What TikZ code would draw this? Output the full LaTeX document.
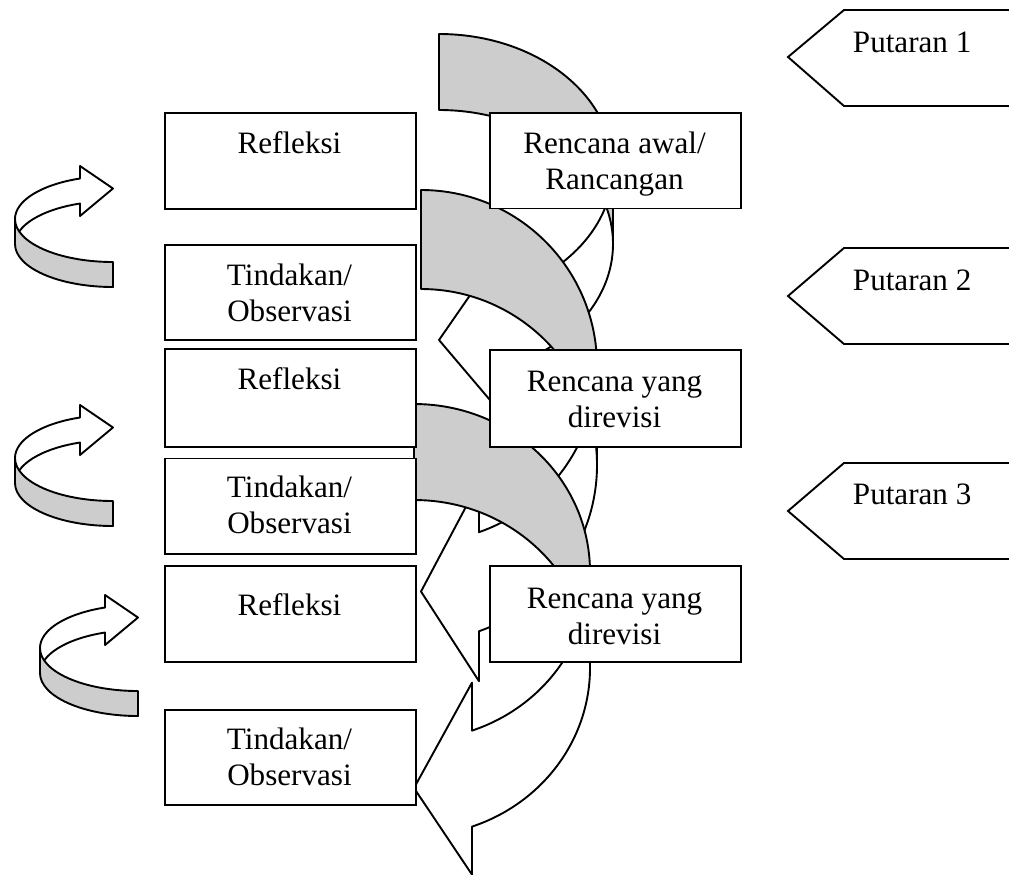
\documentclass[tikz,border=0pt]{standalone}
\usepackage{fontspec}
\setmainfont{Liberation Serif}
\definecolor{bandgray}{RGB}{205,205,205}

\begin{document}
\begin{tikzpicture}[x=0.1389mm, y=-0.1389mm, line width=0.75pt,
    box/.style={draw, fill=white, anchor=north west, inner sep=0pt,
      minimum width=251*0.1389mm, minimum height=96*0.1389mm},
    txt/.style={anchor=north, inner sep=0pt, align=center,
      font=\fontsize{12.3pt}{14.2pt}\selectfont},
    lbl/.style={anchor=base west, inner sep=0pt,
      font=\fontsize{12.3pt}{14.2pt}\selectfont},
    front/.style={draw, fill=white, line join=round},
    back/.style={draw, fill=bandgray, line join=round}]
    \useasboundingbox (0,0) rectangle (1009,874);
    \clip (0,0) rectangle (1009,874);

    % big curved arrows, round 1 to 3
    \draw[front] (613,168) arc[start angle=0, end angle=70.53, x radius=174, y radius=134]
      -- (497,256.3) -- (439,340) -- (497,408.3) -- (497,370.3)
      arc[start angle=70.53, end angle=0, x radius=174, y radius=134] -- cycle;
    \draw[back] (439,34) arc[start angle=-90, end angle=0, x radius=174, y radius=134]
      -- (613,244) arc[start angle=0, end angle=-90, x radius=174, y radius=134] -- cycle;

    \draw[front] (597,366) arc[start angle=0, end angle=70.76, x radius=176, y radius=176]
      -- (479,482.2) -- (421,591.5) -- (479,681.2) -- (479,631.2)
      arc[start angle=70.76, end angle=0, x radius=176, y radius=176] -- cycle;
    \draw[back] (421,190) arc[start angle=-90, end angle=0, x radius=176, y radius=176]
      -- (597,465) arc[start angle=0, end angle=-90, x radius=176, y radius=176] -- cycle;

    \draw[front] (590,572) arc[start angle=0, end angle=70.76, x radius=176, y radius=168]
      -- (472,682.6) -- (414,788) -- (472,874.6) -- (472,826.6)
      arc[start angle=70.76, end angle=0, x radius=176, y radius=168] -- cycle;
    \draw[back] (414,404) arc[start angle=-90, end angle=0, x radius=176, y radius=168]
      -- (590,668) arc[start angle=0, end angle=-90, x radius=176, y radius=168] -- cycle;

    % small curved arrows on the left
    \draw[front] (15,244) arc[start angle=180, end angle=250.32, x radius=98, y radius=43]
      -- (80,216) -- (113,188.5) -- (80,166) -- (80,178.5)
      arc[start angle=250.32, end angle=180, x radius=98, y radius=43] -- cycle;
    \draw[back] (113,262) arc[start angle=90, end angle=180, x radius=98, y radius=43]
      -- (15,244) arc[start angle=180, end angle=90, x radius=98, y radius=43] -- cycle;

    \draw[front] (15,483) arc[start angle=180, end angle=250.32, x radius=98, y radius=43]
      -- (80,455) -- (113,427.5) -- (80,405) -- (80,417.5)
      arc[start angle=250.32, end angle=180, x radius=98, y radius=43] -- cycle;
    \draw[back] (113,501) arc[start angle=90, end angle=180, x radius=98, y radius=43]
      -- (15,483) arc[start angle=180, end angle=90, x radius=98, y radius=43] -- cycle;

    \draw[front] (40,673) arc[start angle=180, end angle=250.32, x radius=98, y radius=43]
      -- (105,645) -- (138,617.5) -- (105,595) -- (105,607.5)
      arc[start angle=250.32, end angle=180, x radius=98, y radius=43] -- cycle;
    \draw[back] (138,691) arc[start angle=90, end angle=180, x radius=98, y radius=43]
      -- (40,673) arc[start angle=180, end angle=90, x radius=98, y radius=43] -- cycle;

    % boxes
    \node[box] (ref1) at (164,112) {};
    \node[box, minimum height=95*0.1389mm] (tin1) at (164,244) {};
    \node[box, minimum height=98*0.1389mm] (ref2) at (164,348) {};
    \node[box, minimum height=95.5*0.1389mm] (tin2) at (164,457.5) {};
    \node[box] (ref3) at (164,565) {};
    \node[box, minimum height=95*0.1389mm] (tin3) at (164,709) {};
    \node[box, minimum height=95.5*0.1389mm] (ren1) at (489,112) {};
    \node[box, minimum height=97*0.1389mm] (ren2) at (489,349) {};
    \node[box] (ren3) at (489,565) {};

    \node[txt] (tref1) at (289.5,131) {Refleksi};
    \node[txt] (ttin1) at (289.5,263) {Tindakan/\\Observasi};
    \node[txt] (tref2) at (289.5,367) {Refleksi};
    \node[txt] (ttin2) at (289.5,475) {Tindakan/\\Observasi};
    \node[txt] (tref3) at (289.5,593) {Refleksi};
    \node[txt] (ttin3) at (289.5,727) {Tindakan/\\Observasi};
    \node[txt] (tren1) at (614.5,131) {Rencana awal/\\Rancangan};
    \node[txt] (tren2) at (614.5,370) {Rencana yang\\direvisi};
    \node[txt] (tren3) at (614.5,587) {Rencana yang\\direvisi};

    % round labels
    \draw (1020,10) -- (844,10) -- (788,57) -- (844,106) -- (1020,106);
    \draw (1020,248) -- (844,248) -- (788,296) -- (844,344) -- (1020,344);
    \draw (1020,463) -- (844,463) -- (788,511) -- (844,559) -- (1020,559);
    \node[lbl] (put1) at (852,52) {Putaran 1};
    \node[lbl] (put2) at (852,290) {Putaran 2};
    \node[lbl] (put3) at (852,504) {Putaran 3};
\end{tikzpicture}
\end{document}
